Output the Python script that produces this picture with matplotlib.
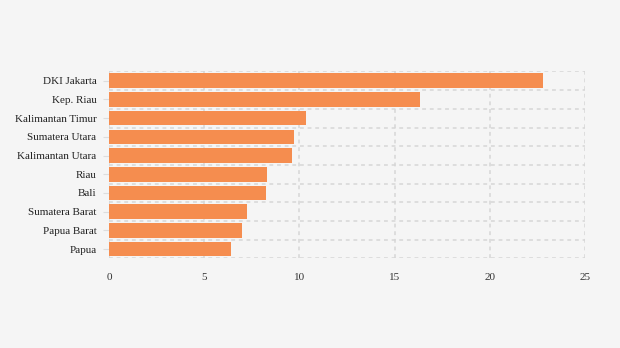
import matplotlib
matplotlib.use("Agg")
import matplotlib.pyplot as plt
import numpy as np

categories = ["DKI Jakarta", "Kep. Riau", "Kalimantan Timur", "Sumatera Utara",
              "Kalimantan Utara", "Riau", "Bali", "Sumatera Barat", "Papua Barat", "Papua"]
values = [22.8, 16.33, 10.36, 9.72, 9.61, 8.3, 8.25, 7.25, 6.99, 6.41]
xticks = [0, 5, 10, 15, 20, 25]

plt.rcParams['font.family'] = ['Liberation Serif', 'DejaVu Serif']

bg = "#f5f5f5"
fig = plt.figure(figsize=(6.2, 3.48), dpi=100, facecolor=bg)
ax = fig.add_axes([0.1758, 0.2575, 0.7677, 0.5373], facecolor=bg)

y = np.arange(len(categories))
ax.barh(y, values, height=0.78, color="#f58d4f", zorder=3)

ax.set_xlim(0, 25)
ax.set_ylim(len(categories) - 0.5, -0.5)
ax.set_xticks(xticks)
ax.set_xticklabels([str(t) for t in xticks])
ax.set_yticks(y)
ax.set_yticklabels(categories)
ax.set_yticks(np.arange(-0.5, len(categories), 1), minor=True)

for s in ax.spines.values():
    s.set_visible(False)

grid_kw = dict(color="#d6d6d6", linestyle=(0, (2.5, 2.5)), linewidth=1.1, zorder=0)
ax.grid(axis="x", which="major", **grid_kw)
ax.grid(axis="y", which="minor", **grid_kw)
ax.grid(axis="y", which="major", visible=False)

ax.tick_params(axis="x", which="both", length=0, pad=10.5, labelsize=8, labelcolor="#333333")
ax.tick_params(axis="y", which="major", length=4, color="#dddddd", pad=5, labelsize=8, labelcolor="#222222")
ax.tick_params(axis="y", which="minor", length=0)

fig.savefig("out.png", dpi=100, facecolor=bg)
